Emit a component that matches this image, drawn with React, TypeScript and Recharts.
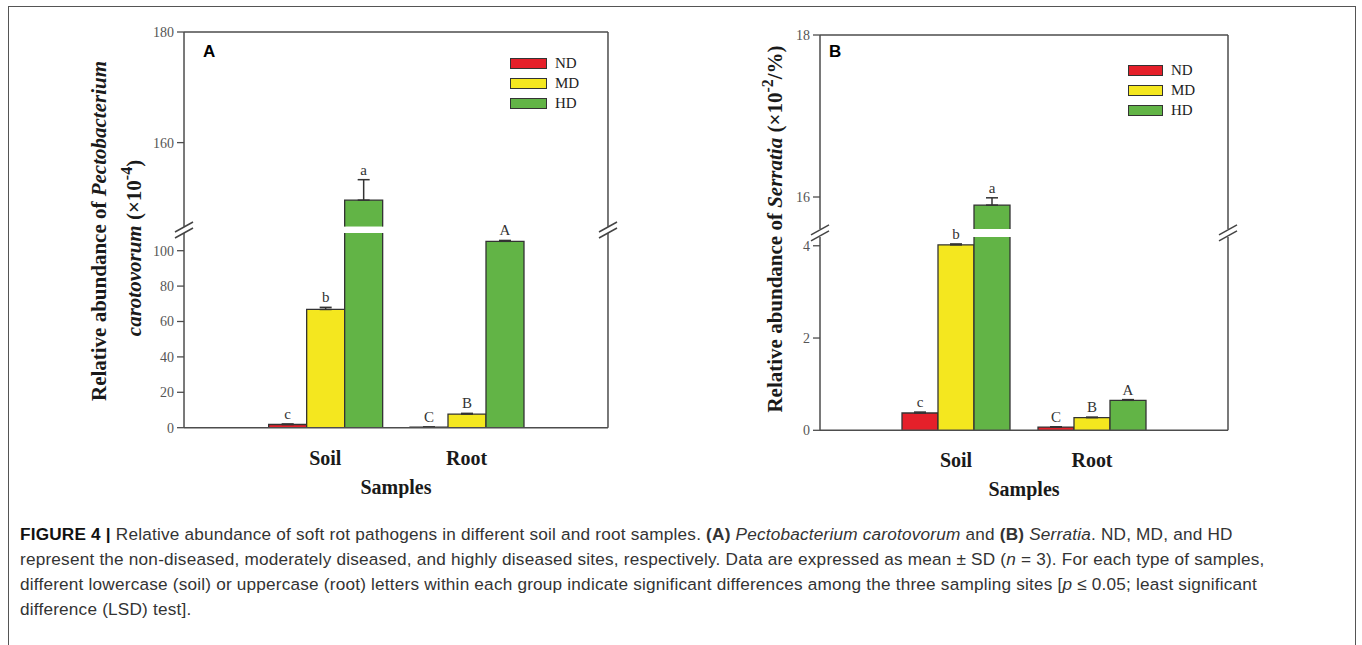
import React from "react";
import {
  BarChart,
  Bar,
  XAxis,
  YAxis,
  ErrorBar,
  LabelList,
  ReferenceLine,
  Legend,
  Label
} from "recharts";

const SERIF = "'Liberation Serif', 'Times New Roman', serif";
const SANS = "'Liberation Sans', Arial, sans-serif";

const groups = ["Soil", "Root"];
const seriesNames = ["ND", "MD", "HD"];
const seriesColors = ["#e5202a", "#f4e71f", "#62b446"];
// significance letters, soil lowercase / root uppercase
const ndLetters = ["c", "C"];
const mdLetters = ["b", "B"];
const hdLetters = ["a", "A"];

// A: Pectobacterium carotovorum (x10^-4)
const aND = [1.8, 0.3];
const aMD = [66.8, 7.7];
const aHD = [149.6, 105.3];
const aNDsd = [0.3, 0.1];
const aMDsd = [1.2, 0.4];
const aHDsd = [3.7, 0.5];
const aLowTicks = [0, 20, 40, 60, 80, 100];
const aHighTicks = [160, 180];

// B: Serratia (x10^-2 %)
const bND = [0.375, 0.07];
const bMD = [4.02, 0.275];
const bHD = [15.9, 0.65];
const bNDsd = [0.02, 0.005];
const bMDsd = [0.02, 0.01];
const bHDsd = [0.09, 0.015];
const bLowTicks = [0, 2, 4];
const bHighTicks = [16, 18];

const AXIS = { stroke: "#4d4d4d", strokeWidth: 1.5 };
const TICK = { fontSize: 14, fill: "#555", fontFamily: SERIF };

const OpenBar = (props: any) => {
  const { x, y, width, height, fill } = props;
  if (x == null || y == null || !(height > 0)) return <g />;
  return (
    <g>
      <rect x={x} y={y} width={width} height={height} fill={fill} />
      <path
        d={`M${x},${y + height}V${y}H${x + width}V${y + height}`}
        fill="none"
        stroke="#333"
        strokeWidth={1.3}
      />
    </g>
  );
};

const letterLabel = (ppu: number) => (props: any) => {
  const { value } = props;
  if (value == null || value === "") return null;
  const vb = props.viewBox || props;
  const [t, e] = String(value).split("|");
  return (
    <text
      x={vb.x + vb.width / 2}
      y={vb.y - Number(e) * ppu - 5}
      textAnchor="middle"
      fontSize={15}
      fontFamily={SERIF}
      fill="#333"
    >
      {t}
    </text>
  );
};

function buildRows(vals: number[][], sds: number[][], keepBar: (v: number) => boolean, keepMark: (v: number) => boolean) {
  const lets = [ndLetters, mdLetters, hdLetters];
  return groups.map((g, gi) => {
    const row: any = { group: g };
    seriesNames.forEach((s, si) => {
      const v = vals[si][gi];
      row[s] = keepBar(v) ? v : null;
      row[s + "_e"] = keepMark(v) ? [0, sds[si][gi]] : null;
      row[s + "_l"] = keepMark(v) ? `${lets[si][gi]}|${sds[si][gi]}` : null;
    });
    return row;
  });
}

const panelA = {
  vals: [aND, aMD, aHD],
  sds: [aNDsd, aMDsd, aHDsd],
  lowTicks: aLowTicks,
  highTicks: aHighTicks,
  plotL: 184,
  plotR: 608,
  top: 32,
  upBottom: 226.7,
  lowTop: 233.3,
  bottom: 428,
  upDomain: [144.8, 180],
  lowDomain: [0, 110],
  barSize: 38,
  legend: { x: 510, y: 53, boxW: 37, row: 20.3 },
  letter: "A",
  letterPos: { x: 203, y: 43 },
  breakY: 230
};

const panelB = {
  vals: [bND, bMD, bHD],
  sds: [bNDsd, bMDsd, bHDsd],
  lowTicks: bLowTicks,
  highTicks: bHighTicks,
  plotL: 820,
  plotR: 1228,
  top: 35,
  upBottom: 229,
  lowTop: 236.7,
  bottom: 430,
  upDomain: [15.605, 18],
  lowDomain: [0, 4.19],
  barSize: 36,
  legend: { x: 1128, y: 60, boxW: 35, row: 20 },
  letter: "B",
  letterPos: { x: 829, y: 43 },
  breakY: 232.8
};

function bars(ppu: number) {
  return seriesNames.map((s, i) => (
    <Bar
      key={s}
      dataKey={s}
      fill={seriesColors[i]}
      shape={OpenBar}
      isAnimationActive={false}
    >
      <ErrorBar dataKey={s + "_e"} width={6} stroke="#333" strokeWidth={1.5} direction="y" />
      <LabelList dataKey={s + "_l"} content={letterLabel(ppu)} />
    </Bar>
  ));
}

function Panel({ p }: { p: any }) {
  const W = p.plotR - p.plotL;
  const pad = W / 6;
  const yw = 50;
  const mt = 10;
  const upH = p.upBottom - p.top;
  const lowH = p.bottom - p.lowTop;
  const upPpu = upH / (p.upDomain[1] - p.upDomain[0]);
  const lowPpu = lowH / (p.lowDomain[1] - p.lowDomain[0]);
  const upRows = buildRows(p.vals, p.sds, (v) => v > p.upDomain[0], (v) => v > p.upDomain[0]);
  const lowRows = buildRows(p.vals, p.sds, () => true, (v) => v <= p.lowDomain[1]);
  const left = p.plotL - yw;

  const legendContent = () => (
    <div style={{ fontFamily: SERIF, fontSize: 15, color: "#222" }}>
      {seriesNames.map((s, i) => (
        <div key={s} style={{ display: "flex", alignItems: "center", height: p.legend.row }}>
          <span
            style={{
              width: p.legend.boxW,
              height: 11,
              background: seriesColors[i],
              border: "1.3px solid #333",
              boxSizing: "border-box",
              display: "inline-block"
            }}
          />
          <span style={{ marginLeft: 8 }}>{s}</span>
        </div>
      ))}
    </div>
  );

  return (
    <>
      <div style={{ position: "absolute", left, top: p.top - mt }}>
        <BarChart
          width={yw + W + 1}
          height={mt + upH}
          data={upRows}
          margin={{ top: mt, right: 0, left: 0, bottom: 0 }}
          barGap={0}
          barSize={p.barSize}
        >
          <XAxis dataKey="group" hide padding={{ left: pad, right: pad }} />
          <YAxis
            domain={p.upDomain}
            ticks={p.highTicks}
            allowDataOverflow
            width={yw}
            axisLine={AXIS}
            tickLine={{ stroke: "#4d4d4d", strokeWidth: 1.3 }}
            tickSize={7}
            tickMargin={3}
            tick={TICK}
          />
          <YAxis yAxisId="frame" orientation="right" width={1} domain={[0, 1]} tick={false} tickLine={false} axisLine={AXIS} />
          <ReferenceLine y={p.upDomain[1]} stroke="#4d4d4d" strokeWidth={1.5} />
          <Legend
            layout="vertical"
            align="center"
            verticalAlign="middle"
            wrapperStyle={{ left: p.legend.x - left, top: p.legend.y - (p.top - mt), width: "auto" }}
            content={legendContent}
          />
          {bars(upPpu)}
        </BarChart>
      </div>
      <div style={{ position: "absolute", left, top: p.lowTop - mt }}>
        <BarChart
          width={yw + W + 1}
          height={mt + lowH + 70}
          data={lowRows}
          margin={{ top: mt, right: 0, left: 0, bottom: 0 }}
          barGap={0}
          barSize={p.barSize}
        >
          <XAxis
            dataKey="group"
            padding={{ left: pad, right: pad }}
            height={70}
            axisLine={AXIS}
            tickLine={false}
            tickSize={0}
            tickMargin={23}
            interval={0}
            tick={{ fontSize: 20, fontWeight: "bold", fill: "#1a1a1a", fontFamily: SERIF }}
          >
            <Label
              value="Samples"
              position="insideBottom"
              offset={4}
              fontSize={20}
              fontWeight="bold"
              fill="#1a1a1a"
              fontFamily={SERIF}
            />
          </XAxis>
          <YAxis
            domain={p.lowDomain}
            ticks={p.lowTicks}
            allowDataOverflow
            width={yw}
            axisLine={AXIS}
            tickLine={{ stroke: "#4d4d4d", strokeWidth: 1.3 }}
            tickSize={7}
            tickMargin={3}
            tick={TICK}
          />
          <YAxis yAxisId="frame" orientation="right" width={1} domain={[0, 1]} tick={false} tickLine={false} axisLine={AXIS} />
          {bars(lowPpu)}
        </BarChart>
      </div>
      <div
        style={{
          position: "absolute",
          left: p.letterPos.x,
          top: p.letterPos.y,
          fontFamily: SANS,
          fontWeight: "bold",
          fontSize: 17,
          lineHeight: "17px",
          color: "#000"
        }}
      >
        {p.letter}
      </div>
    </>
  );
}

function BreakMark({ x, y }: { x: number; y: number }) {
  return (
    <g stroke="#444" strokeWidth={1.5}>
      <line x1={x - 9} y1={y + 2} x2={x + 9} y2={y - 8} />
      <line x1={x - 9} y1={y + 8} x2={x + 9} y2={y - 2} />
    </g>
  );
}

function Overlay() {
  const title = { fontFamily: SERIF, fontSize: 21, fontWeight: "bold", fill: "#1a1a1a", textAnchor: "middle" as const };
  return (
    <svg
      width={1362}
      height={645}
      style={{ position: "absolute", left: 0, top: 0, pointerEvents: "none" }}
    >
      <text {...title} transform="translate(106,231) rotate(-90)">
        Relative abundance of <tspan fontStyle="italic">Pectobacterium</tspan>
      </text>
      <text {...title} transform="translate(141,248) rotate(-90)">
        <tspan fontStyle="italic">carotovorum</tspan> (×10
        <tspan dy={-9} fontSize={16}>-4</tspan>
        <tspan dy={9}>)</tspan>
      </text>
      <text {...title} transform="translate(782,229) rotate(-90)">
        Relative abundance of <tspan fontStyle="italic">Serratia</tspan> (×10
        <tspan dy={-9} fontSize={16}>-2</tspan>
        <tspan dy={9}>/%)</tspan>
      </text>
      <BreakMark x={panelA.plotL} y={panelA.breakY} />
      <BreakMark x={panelA.plotR} y={panelA.breakY} />
      <BreakMark x={panelB.plotL} y={panelB.breakY} />
      <BreakMark x={panelB.plotR} y={panelB.breakY} />
    </svg>
  );
}

function Caption() {
  return (
    <div
      style={{
        position: "absolute",
        left: 20,
        top: 522,
        fontFamily: SANS,
        fontSize: 17.2,
        letterSpacing: "0.2px",
        lineHeight: "25px",
        color: "#333",
        whiteSpace: "nowrap"
      }}
    >
      <div>
        <b style={{ color: "#111" }}>FIGURE 4 |</b> Relative abundance of soft rot pathogens in different soil and root
        samples. <b>(A)</b> <i>Pectobacterium carotovorum</i> and <b>(B)</b> <i>Serratia</i>. ND, MD, and HD
      </div>
      <div>
        represent the non-diseased, moderately diseased, and highly diseased sites, respectively. Data are expressed as
        mean ± SD (<i>n</i> = 3). For each type of samples,
      </div>
      <div>
        different lowercase (soil) or uppercase (root) letters within each group indicate significant differences among
        the three sampling sites [<i>p</i> ≤ 0.05; least significant
      </div>
      <div>difference (LSD) test].</div>
    </div>
  );
}

export default function App() {
  return (
    <div
      style={{
        position: "absolute",
        left: 0,
        top: 0,
        width: 1362,
        height: 645,
        overflow: "hidden",
        background: "#fff",
        fontFamily: SERIF
      }}
    >
      <div
        style={{
          position: "absolute",
          left: 8,
          top: 6,
          width: 1346,
          height: 700,
          border: "1.5px solid #555"
        }}
      />
      <Panel p={panelA} />
      <Panel p={panelB} />
      <Overlay />
      <Caption />
    </div>
  );
}
